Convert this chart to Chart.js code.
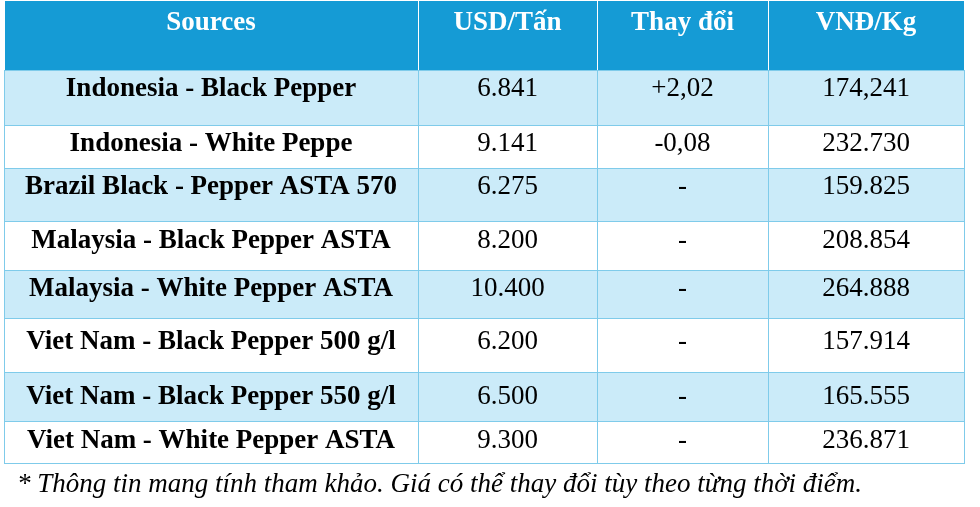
<!DOCTYPE html>
<html><head><meta charset="utf-8">
<script src="https://cdn.jsdelivr.net/npm/chart.js@4/dist/chart.umd.min.js"></script>
<style>html,body{margin:0;padding:0;background:#fff}#w{width:980px;height:507px}</style>
</head><body><div id="w"><canvas id="c"></canvas></div>
<script>
const headers = ["Sources", "USD/Tấn", "Thay đổi", "VNĐ/Kg"];
const sources = ["Indonesia - Black Pepper","Indonesia - White Peppe","Brazil Black - Pepper ASTA 570","Malaysia - Black Pepper ASTA","Malaysia - White Pepper ASTA","Viet Nam - Black Pepper 500 g/l","Viet Nam - Black Pepper 550 g/l","Viet Nam - White Pepper ASTA"];
const usdPerTon = ["6.841","9.141","6.275","8.200","10.400","6.200","6.500","9.300"];
const change = ["+2,02","-0,08","-","-","-","-","-","-"];
const vndPerKg = ["174,241","232.730","159.825","208.854","264.888","157.914","165.555","236.871"];
const footnote = "* Thông tin mang tính tham khảo. Giá có thể thay đổi tùy theo từng thời điểm.";
const colEdges = [4, 418, 597, 768, 964];
const rowEdges = [0, 70, 125, 168, 221, 270, 318, 372, 421, 463];
const textOffset = [23, 19, 19, 19, 20, 19, 24, 25, 20];

const tablePlugin = {
  id: 'table',
  afterDraw(chart) {
    const {ctx, scales:{x, y}} = chart;
    const X = v => x.getPixelForValue(v), Y = v => y.getPixelForValue(v);
    ctx.save();
    const rows = [headers].concat(sources.map((s,i)=>[s, usdPerTon[i], change[i], vndPerKg[i]]));
    rows.forEach((r, ri) => {
      const top = Y(rowEdges[ri]), bot = Y(rowEdges[ri+1]);
      for (let ci = 0; ci < 4; ci++) {
        const l = X(colEdges[ci]), rr = X(colEdges[ci+1]);
        ctx.fillStyle = ri === 0 ? '#159bd5' : (ri % 2 === 1 ? '#cbebf9' : '#ffffff');
        ctx.fillRect(l, top, rr - l, bot - top);
        ctx.strokeStyle = ri === 0 ? '#ffffff' : '#7fcbea';
        ctx.lineWidth = 1;
        ctx.strokeRect(l + 0.5, top + 0.5, rr - l, bot - top);
        ctx.fillStyle = ri === 0 ? '#ffffff' : '#000000';
        ctx.font = ((ri === 0 || ci === 0) ? 'bold ' : '') + '27px "Liberation Serif"';
        ctx.textAlign = 'center';
        ctx.textBaseline = 'middle';
        ctx.fillText(r[ci], (l + rr) / 2, top + textOffset[ri]);
      }
    });
    ctx.fillStyle = '#000';
    ctx.font = 'italic 27px "Liberation Serif"';
    ctx.textAlign = 'left';
    ctx.textBaseline = 'middle';
    ctx.fillText(footnote, X(17), Y(485));
    ctx.restore();
  }
};

new Chart(document.getElementById('c'), {
  type: 'scatter',
  data: { datasets: [{ data: [] }] },
  options: {
    responsive: true, maintainAspectRatio: false, animation: false,
    layout: { padding: 0 },
    plugins: { legend: { display: false }, tooltip: { enabled: false } },
    scales: {
      x: { type: 'linear', min: 0, max: 980, display: false },
      y: { type: 'linear', min: 0, max: 507, reverse: true, display: false }
    }
  },
  plugins: [tablePlugin]
});
</script></body></html>
